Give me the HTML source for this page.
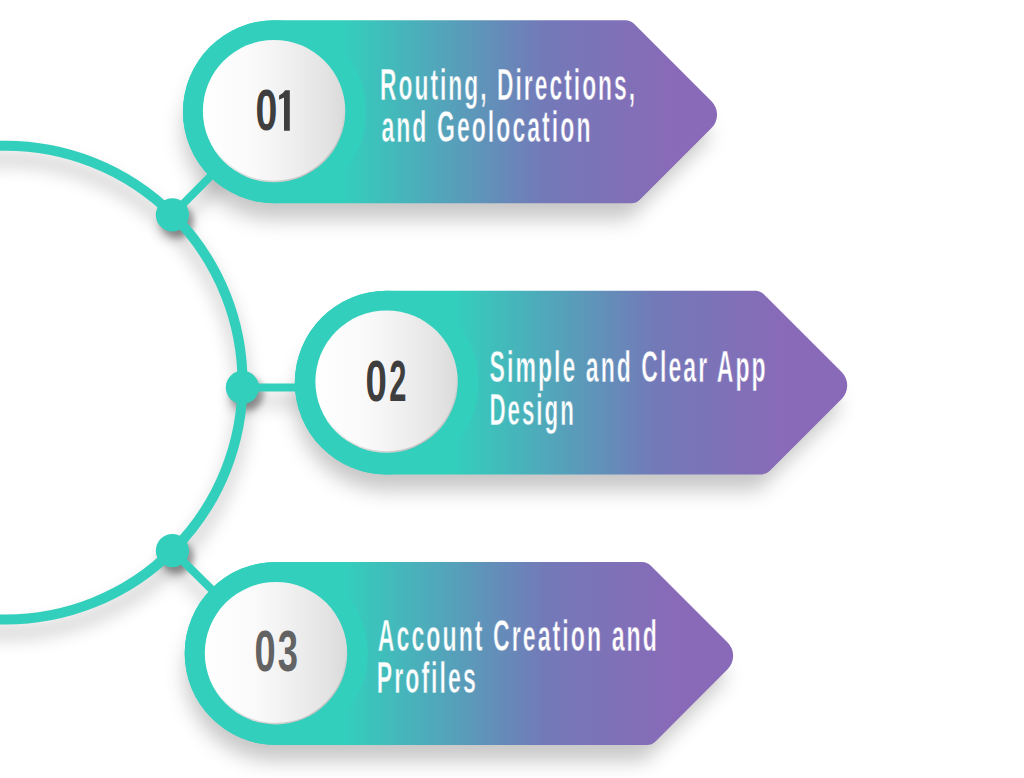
<!DOCTYPE html>
<html><head><meta charset="utf-8"><style>
html,body{margin:0;padding:0;background:#fff;}
svg{display:block;}
text{font-family:"Liberation Sans",sans-serif;}
</style></head><body>
<svg width="1024" height="778" viewBox="0 0 1024 778">
<defs><filter id="fsh" x="-30%" y="-30%" width="160%" height="180%" color-interpolation-filters="sRGB"><feMorphology in="SourceAlpha" operator="erode" radius="4" result="e0"/><feGaussianBlur in="e0" stdDeviation="10"/><feOffset dx="-4" dy="20" result="o0"/><feFlood flood-color="#000" flood-opacity="0.22"/><feComposite in2="o0" operator="in" result="s0"/><feMerge><feMergeNode in="s0"/></feMerge></filter><filter id="fsha" x="-30%" y="-30%" width="160%" height="180%" color-interpolation-filters="sRGB"><feGaussianBlur in="SourceAlpha" stdDeviation="9"/><feOffset dx="0" dy="13" result="o0"/><feFlood flood-color="#000" flood-opacity="0.24"/><feComposite in2="o0" operator="in" result="s0"/><feMerge><feMergeNode in="s0"/></feMerge></filter><filter id="fshd" x="-30%" y="-30%" width="160%" height="180%" color-interpolation-filters="sRGB"><feGaussianBlur in="SourceAlpha" stdDeviation="5"/><feOffset dx="1" dy="10" result="o0"/><feFlood flood-color="#000" flood-opacity="0.14"/><feComposite in2="o0" operator="in" result="s0"/><feGaussianBlur in="SourceAlpha" stdDeviation="3"/><feOffset dx="5" dy="6" result="o1"/><feFlood flood-color="#000" flood-opacity="0.3"/><feComposite in2="o1" operator="in" result="s1"/><feMerge><feMergeNode in="s0"/><feMergeNode in="s1"/></feMerge></filter><linearGradient id="rim" x1="0.3" y1="0" x2="0.6" y2="1"><stop offset="0" stop-color="#000" stop-opacity="0"/><stop offset="0.6" stop-color="#000" stop-opacity="0"/><stop offset="1" stop-color="#000" stop-opacity="0.16"/></linearGradient><linearGradient id="wg" x1="0" y1="0" x2="1" y2="0"><stop offset="0" stop-color="#ffffff"/><stop offset="0.35" stop-color="#fafafa"/><stop offset="0.6" stop-color="#f0f0f0"/><stop offset="0.85" stop-color="#e4e4e4"/><stop offset="1" stop-color="#dadada"/></linearGradient><linearGradient id="bg0" gradientUnits="userSpaceOnUse" x1="339.5" y1="0" x2="674.5" y2="0"><stop offset="0" stop-color="#32d0bc"/><stop offset="0.612" stop-color="#7379b8"/><stop offset="1" stop-color="#896ab8"/></linearGradient><linearGradient id="bg1" gradientUnits="userSpaceOnUse" x1="451.7" y1="0" x2="786.7" y2="0"><stop offset="0" stop-color="#32d0bc"/><stop offset="0.612" stop-color="#7379b8"/><stop offset="1" stop-color="#896ab8"/></linearGradient><linearGradient id="bg2" gradientUnits="userSpaceOnUse" x1="341.2" y1="0" x2="676.2" y2="0"><stop offset="0" stop-color="#32d0bc"/><stop offset="0.612" stop-color="#7379b8"/><stop offset="1" stop-color="#896ab8"/></linearGradient></defs>
<g filter="url(#fsh)"><path d="M274.50,20.20 L625.53,20.20 A12.0,12.0 0 0 1 634.01,23.71 L711.51,101.21 A19.0,19.0 0 0 1 711.51,128.09 L639.81,199.79 A12.0,12.0 0 0 1 631.33,203.30 L274.50,203.30 A91.55,91.55 0 0 1 274.50,20.20Z" fill="#000"/><path d="M386.70,290.70 L755.33,290.70 A12.0,12.0 0 0 1 763.81,294.21 L841.66,372.06 A19.0,19.0 0 0 1 841.66,398.94 L769.61,470.99 A12.0,12.0 0 0 1 761.13,474.50 L386.70,474.50 A91.90,91.90 0 0 1 386.70,290.70Z" fill="#000"/><path d="M276.20,561.90 L642.13,561.90 A12.0,12.0 0 0 1 650.61,565.41 L727.61,642.41 A19.0,19.0 0 0 1 727.61,669.29 L655.51,741.39 A12.0,12.0 0 0 1 647.03,744.90 L276.20,744.90 A91.50,91.50 0 0 1 276.20,561.90Z" fill="#000"/></g>
<g filter="url(#fsha)"><circle cx="5.6" cy="382.6" r="236.9" fill="none" stroke="#32d0bc" stroke-width="10"/><line x1="172.4" y1="214.8" x2="274.5" y2="111.75" stroke="#32d0bc" stroke-width="8"/><line x1="242.4" y1="387.4" x2="386.7" y2="387.4" stroke="#32d0bc" stroke-width="8"/><line x1="172.4" y1="550.6" x2="276.2" y2="653.4" stroke="#32d0bc" stroke-width="8"/></g>
<g filter="url(#fshd)"><circle cx="172.4" cy="214.8" r="16.6" fill="#32d0bc"/><circle cx="242.4" cy="387.4" r="16.6" fill="#32d0bc"/><circle cx="172.4" cy="550.6" r="16.6" fill="#32d0bc"/></g>
<circle cx="5.6" cy="382.6" r="236.9" fill="none" stroke="#32d0bc" stroke-width="10"/>
<line x1="172.4" y1="214.8" x2="274.5" y2="111.75" stroke="#32d0bc" stroke-width="8"/><line x1="242.4" y1="387.4" x2="386.7" y2="387.4" stroke="#32d0bc" stroke-width="8"/><line x1="172.4" y1="550.6" x2="276.2" y2="653.4" stroke="#32d0bc" stroke-width="8"/>
<circle cx="172.4" cy="214.8" r="16.6" fill="#32d0bc"/><circle cx="242.4" cy="387.4" r="16.6" fill="#32d0bc"/><circle cx="172.4" cy="550.6" r="16.6" fill="#32d0bc"/>
<path d="M274.50,20.20 L625.53,20.20 A12.0,12.0 0 0 1 634.01,23.71 L711.51,101.21 A19.0,19.0 0 0 1 711.51,128.09 L639.81,199.79 A12.0,12.0 0 0 1 631.33,203.30 L274.50,203.30 A91.55,91.55 0 0 1 274.50,20.20Z" fill="url(#bg0)"/>
<circle cx="274.5" cy="111.75" r="91.55000000000001" fill="#32d0bc"/>
<circle cx="274.1" cy="111.1" r="71.2" fill="url(#wg)"/>
<circle cx="274.1" cy="111.1" r="70.4" fill="none" stroke="url(#rim)" stroke-width="1.6"/>
<path d="M386.70,290.70 L755.33,290.70 A12.0,12.0 0 0 1 763.81,294.21 L841.66,372.06 A19.0,19.0 0 0 1 841.66,398.94 L769.61,470.99 A12.0,12.0 0 0 1 761.13,474.50 L386.70,474.50 A91.90,91.90 0 0 1 386.70,290.70Z" fill="url(#bg1)"/>
<circle cx="386.7" cy="382.6" r="91.9" fill="#32d0bc"/>
<circle cx="386.6" cy="381.6" r="71.2" fill="url(#wg)"/>
<circle cx="386.6" cy="381.6" r="70.4" fill="none" stroke="url(#rim)" stroke-width="1.6"/>
<path d="M276.20,561.90 L642.13,561.90 A12.0,12.0 0 0 1 650.61,565.41 L727.61,642.41 A19.0,19.0 0 0 1 727.61,669.29 L655.51,741.39 A12.0,12.0 0 0 1 647.03,744.90 L276.20,744.90 A91.50,91.50 0 0 1 276.20,561.90Z" fill="url(#bg2)"/>
<circle cx="276.2" cy="653.4" r="91.5" fill="#32d0bc"/>
<circle cx="276.0" cy="653.2" r="71.2" fill="url(#wg)"/>
<circle cx="276.0" cy="653.2" r="70.4" fill="none" stroke="url(#rim)" stroke-width="1.6"/>
<text x="380.00" y="100.00" font-family="Liberation Sans" font-weight="bold" font-size="45" letter-spacing="4" textLength="257.10" lengthAdjust="spacingAndGlyphs" fill="#fff" stroke="url(#bg0)" stroke-width="0.6">Routing, Directions,</text>
<text x="381.40" y="141.60" font-family="Liberation Sans" font-weight="bold" font-size="45" letter-spacing="4" textLength="211.10" lengthAdjust="spacingAndGlyphs" fill="#fff" stroke="url(#bg0)" stroke-width="0.6">and Geolocation</text>
<text x="489.60" y="381.90" font-family="Liberation Sans" font-weight="bold" font-size="45" letter-spacing="4" textLength="278.06" lengthAdjust="spacingAndGlyphs" fill="#fff" stroke="url(#bg1)" stroke-width="0.6">Simple and Clear App</text>
<text x="489.40" y="424.60" font-family="Liberation Sans" font-weight="bold" font-size="45" letter-spacing="4" textLength="86.42" lengthAdjust="spacingAndGlyphs" fill="#fff" stroke="url(#bg1)" stroke-width="0.6">Design</text>
<text x="377.80" y="651.10" font-family="Liberation Sans" font-weight="bold" font-size="45" letter-spacing="4" textLength="281.06" lengthAdjust="spacingAndGlyphs" fill="#fff" stroke="url(#bg2)" stroke-width="0.6">Account Creation and</text>
<text x="376.80" y="692.70" font-family="Liberation Sans" font-weight="bold" font-size="45" letter-spacing="4" textLength="100.97" lengthAdjust="spacingAndGlyphs" fill="#fff" stroke="url(#bg2)" stroke-width="0.6">Profiles</text>
<text x="255.40" y="130.20" font-family="Liberation Sans" font-weight="bold" font-size="58" letter-spacing="0" textLength="21.87" lengthAdjust="spacingAndGlyphs" fill="#3e3e3e">0</text>
<path d="M289.8,90.2 L285.2,90.2 Q283.2,93.6 279.1,95.4 L279.1,99.7 L284.0,97.5 L284.0,130.8 L289.8,130.8 Z" fill="#3e3e3e"/>
<text x="365.40" y="400.50" font-family="Liberation Sans" font-weight="bold" font-size="58" letter-spacing="0" textLength="21.41" lengthAdjust="spacingAndGlyphs" fill="#3e3e3e">0</text>
<text x="389.20" y="400.50" font-family="Liberation Sans" font-weight="bold" font-size="58" letter-spacing="0" textLength="17.18" lengthAdjust="spacingAndGlyphs" fill="#3e3e3e">2</text>
<text x="254.60" y="671.30" font-family="Liberation Sans" font-weight="bold" font-size="58" letter-spacing="0" textLength="21.17" lengthAdjust="spacingAndGlyphs" fill="#636363">0</text>
<text x="277.80" y="671.30" font-family="Liberation Sans" font-weight="bold" font-size="58" letter-spacing="0" textLength="20.20" lengthAdjust="spacingAndGlyphs" fill="#636363">3</text>
</svg></body></html>
